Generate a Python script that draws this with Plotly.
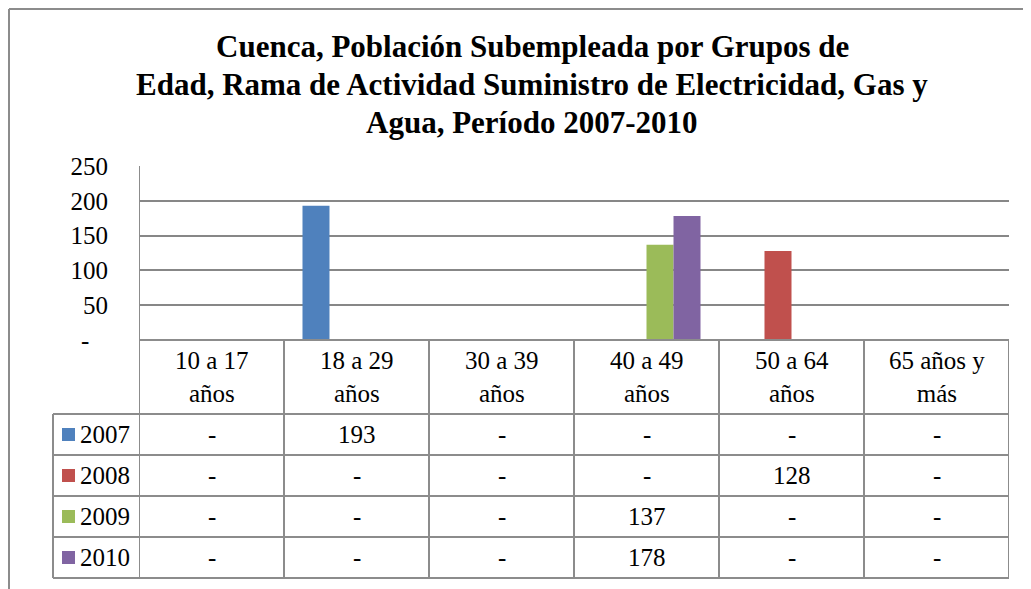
import plotly.graph_objects as go

categories = ["10 a 17 años", "18 a 29 años", "30 a 39 años", "40 a 49 años", "50 a 64 años", "65 años y más"]
cat_labels = ["10 a 17<br>años", "18 a 29<br>años", "30 a 39<br>años", "40 a 49<br>años", "50 a 64<br>años", "65 años y<br>más"]
series_names = ["2007", "2008", "2009", "2010"]
v2007 = [None, 193, None, None, None, None]
v2008 = [None, None, None, None, 128, None]
v2009 = [None, None, None, 137, None, None]
v2010 = [None, None, None, 178, None, None]
series_values = [v2007, v2008, v2009, v2010]
colors = ["#4F81BD", "#C0504D", "#9BBB59", "#8064A2"]
y_ticks = [0, 50, 100, 150, 200, 250]
y_ticktext = ["-\u00a0\u00a0\u00a0", "50", "100", "150", "200", "250"]
title_lines = ["Cuenca, Población Subempleada por Grupos de",
               "Edad, Rama de Actividad Suministro de Electricidad, Gas y",
               "Agua, Período 2007-2010"]

OFF = 8  # page body margin
W, H = 1031 - OFF, 589 - OFF
FONT = "Liberation Serif"
GRID = "#878787"
BORDER = "#8C8C8C"

def px(x):
    return (x - OFF) / W

def py(y):
    return 1 - (y - OFF) / H

PLOT_L, PLOT_R, PLOT_T, PLOT_B = 139, 1009, 166, 340
ROW_Y = [414, 455, 496, 537, 578]
LEG_L = 53
TITLE_Y = [47, 85, 122]

fig = go.Figure()
for name, vals, col in zip(series_names, series_values, colors):
    fig.add_trace(go.Bar(x=categories, y=[v if v is not None else 0 for v in vals],
                         name=name, marker=dict(color=col, line=dict(width=0)),
                         showlegend=False, hoverinfo="skip"))

shapes = []
annotations = []

# outer chart border
shapes.append(dict(type="line", xref="paper", yref="paper", x0=px(9), x1=px(9), y0=py(9), y1=py(589),
                   line=dict(color=BORDER, width=2)))
shapes.append(dict(type="line", xref="paper", yref="paper", x0=px(9), x1=px(1031), y0=py(9), y1=py(9),
                   line=dict(color=BORDER, width=2)))

# table horizontal lines
shapes.append(dict(type="line", xref="x", yref="paper", x0=-0.5, x1=len(categories) - 0.5,
                   y0=py(PLOT_B), y1=py(PLOT_B), line=dict(color=BORDER, width=2)))
for yy in ROW_Y:
    shapes.append(dict(type="line", xref="paper", yref="paper", x0=px(LEG_L), x1=px(PLOT_R),
                       y0=py(yy), y1=py(yy), line=dict(color=BORDER, width=2)))
# table vertical lines
for i in range(len(categories) + 1):
    shapes.append(dict(type="line", xref="x", yref="paper", x0=i - 0.5, x1=i - 0.5,
                       y0=py(PLOT_B), y1=py(ROW_Y[-1]), line=dict(color=BORDER, width=2)))
shapes.append(dict(type="line", xref="paper", yref="paper", x0=px(LEG_L), x1=px(LEG_L),
                   y0=py(ROW_Y[0]), y1=py(ROW_Y[-1]), line=dict(color=BORDER, width=2)))
# y-axis line
shapes.append(dict(type="line", xref="x", yref="paper", x0=-0.5, x1=-0.5,
                   y0=py(PLOT_T), y1=py(PLOT_B), line=dict(color=BORDER, width=2)))

# header labels
for i, lab in enumerate(cat_labels):
    annotations.append(dict(x=i, xref="x", y=py((PLOT_B + ROW_Y[0]) / 2), yref="paper",
                            text=lab, showarrow=False, xanchor="center", yanchor="middle",
                            font=dict(family=FONT, size=25, color="#000000")))

# rows
for r, (name, vals, col) in enumerate(zip(series_names, series_values, colors)):
    yc = (ROW_Y[r] + ROW_Y[r + 1]) / 2
    shapes.append(dict(type="rect", xref="paper", yref="paper", x0=px(62), x1=px(75),
                       y0=py(yc - 6.5), y1=py(yc + 6.5), fillcolor=col, line=dict(width=0)))
    annotations.append(dict(x=px(78), xref="paper", y=py(yc), yref="paper", text=name,
                            showarrow=False, xanchor="left", yanchor="middle",
                            font=dict(family=FONT, size=25, color="#000000")))
    for i, v in enumerate(vals):
        annotations.append(dict(x=i, xref="x", y=py(yc), yref="paper",
                                text="-" if v is None else str(v), showarrow=False,
                                xanchor="center", yanchor="middle",
                                font=dict(family=FONT, size=25, color="#000000")))

# title (three lines)
for line, yy in zip(title_lines, TITLE_Y):
    annotations.append(dict(x=px(532), xref="paper", y=py(yy), yref="paper", text="<b>" + line + "</b>",
                            showarrow=False, xanchor="center", yanchor="middle",
                            font=dict(family=FONT, size=31, color="#000000")))

fig.update_layout(
    template="none",
    width=W, height=H,
    margin=dict(l=0, r=0, t=0, b=0, pad=0, autoexpand=False),
    paper_bgcolor="white", plot_bgcolor="white",
    barmode="group", bargap=0.255, bargroupgap=0,
    shapes=shapes, annotations=annotations,
    font=dict(family=FONT, size=25, color="#000000"),
    xaxis=dict(domain=[px(PLOT_L), px(PLOT_R)], range=[-0.5, len(categories) - 0.5], automargin=False,
               showticklabels=False, showgrid=False, zeroline=False, showline=False, ticks=""),
    yaxis=dict(domain=[py(PLOT_B), py(PLOT_T)], range=[0, 250], tickvals=y_ticks, ticktext=y_ticktext,
               automargin=False,
               showgrid=True, gridcolor=GRID, gridwidth=2, zeroline=False, showline=False, ticks="",
               ticklabelstandoff=30, tickfont=dict(family=FONT, size=25, color="#000000")),
)

fig.write_html("out.html")
